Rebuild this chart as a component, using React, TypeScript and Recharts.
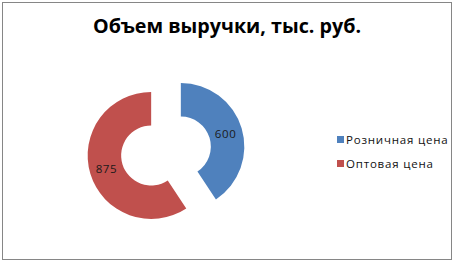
import { PieChart, Pie, Cell, Legend } from "recharts";

const categories = ["Розничная цена", "Оптовая цена"];
const revenue = [600, 875];
const colors = ["#4F81BD", "#C0504D"];

const data = categories.map((name, i) => ({ name, value: revenue[i] }));
const total = revenue.reduce((a, b) => a + b, 0);

// doughnut centre and how far each slice is pulled out
const CX = 166;
const CY = 151;
const EXPLODE = 15.5;
const INNER = 30;
const OUTER = 63.5;

const RAD = Math.PI / 180;

// clockwise angle (from 12 o'clock) of the middle of slice i
function midAngleOf(i: number) {
    const before = revenue.slice(0, i).reduce((a, b) => a + b, 0);
    return ((before + revenue[i] / 2) / total) * 360;
}

const renderLabel = (own: number) => (props: any) => {
    if (props.index !== own) return null;
    const r = (props.innerRadius + props.outerRadius) / 2;
    const x = props.cx + r * Math.cos(-props.midAngle * RAD);
    const y = props.cy + r * Math.sin(-props.midAngle * RAD);
    return (
        <text
            x={x}
            y={y}
            textAnchor="middle"
            dominantBaseline="central"
            fontSize={11.5}
            fontFamily="'Open Sans', sans-serif"
            letterSpacing={0.6}
            fill="#1a1a1a"
        >
            {props.value}
        </text>
    );
};

function LegendBox() {
    return (
        <div style={{ fontFamily: "'Open Sans', sans-serif", fontSize: 11.5, color: "#111", whiteSpace: "nowrap" }}>
            {categories.map((name, i) => (
                <div key={name} style={{ display: "flex", alignItems: "center", height: 24 }}>
                    <span style={{ width: 7, height: 7, background: colors[i], marginRight: 2, flex: "none" }} />
                    <span style={{ letterSpacing: 0.8 }}>{name}</span>
                </div>
            ))}
        </div>
    );
}

export default function App() {
    return (
        <div style={{ position: "absolute", left: 0, top: 0, width: 454, height: 262, background: "#fff" }}>
            <div
                style={{
                    position: "absolute",
                    left: 2,
                    top: 2,
                    width: 448,
                    height: 256,
                    border: "1px solid #868686",
                }}
            />
            <div
                style={{
                    position: "absolute",
                    left: 0,
                    top: 16,
                    width: 454,
                    textAlign: "center",
                    fontFamily: "'Open Sans', sans-serif",
                    fontWeight: 700,
                    fontSize: 19.7,
                    lineHeight: "20px",
                    color: "#000",
                }}
            >
                Объем выручки, тыс. руб.
            </div>
            <PieChart
                width={454}
                height={262}
                margin={{ top: 0, right: 0, bottom: 0, left: 0 }}
                style={{ position: "absolute", left: 0, top: 0 }}
            >
                {categories.map((name, own) => {
                    const mid = midAngleOf(own) * RAD;
                    return (
                        <Pie
                            key={name}
                            data={data}
                            dataKey="value"
                            nameKey="name"
                            cx={CX + EXPLODE * Math.sin(mid)}
                            cy={CY - EXPLODE * Math.cos(mid)}
                            innerRadius={INNER}
                            outerRadius={OUTER}
                            startAngle={90}
                            endAngle={-270}
                            stroke="none"
                            labelLine={false}
                            label={renderLabel(own)}
                            legendType={own === 0 ? "square" : "none"}
                            isAnimationActive={false}
                        >
                            {data.map((d, i) => (
                                <Cell key={d.name} fill={i === own ? colors[i] : "none"} />
                            ))}
                        </Pie>
                    );
                })}
                <Legend
                    layout="vertical"
                    content={<LegendBox />}
                    wrapperStyle={{ left: 337, top: 127, width: 112 }}
                />
            </PieChart>
        </div>
    );
}
